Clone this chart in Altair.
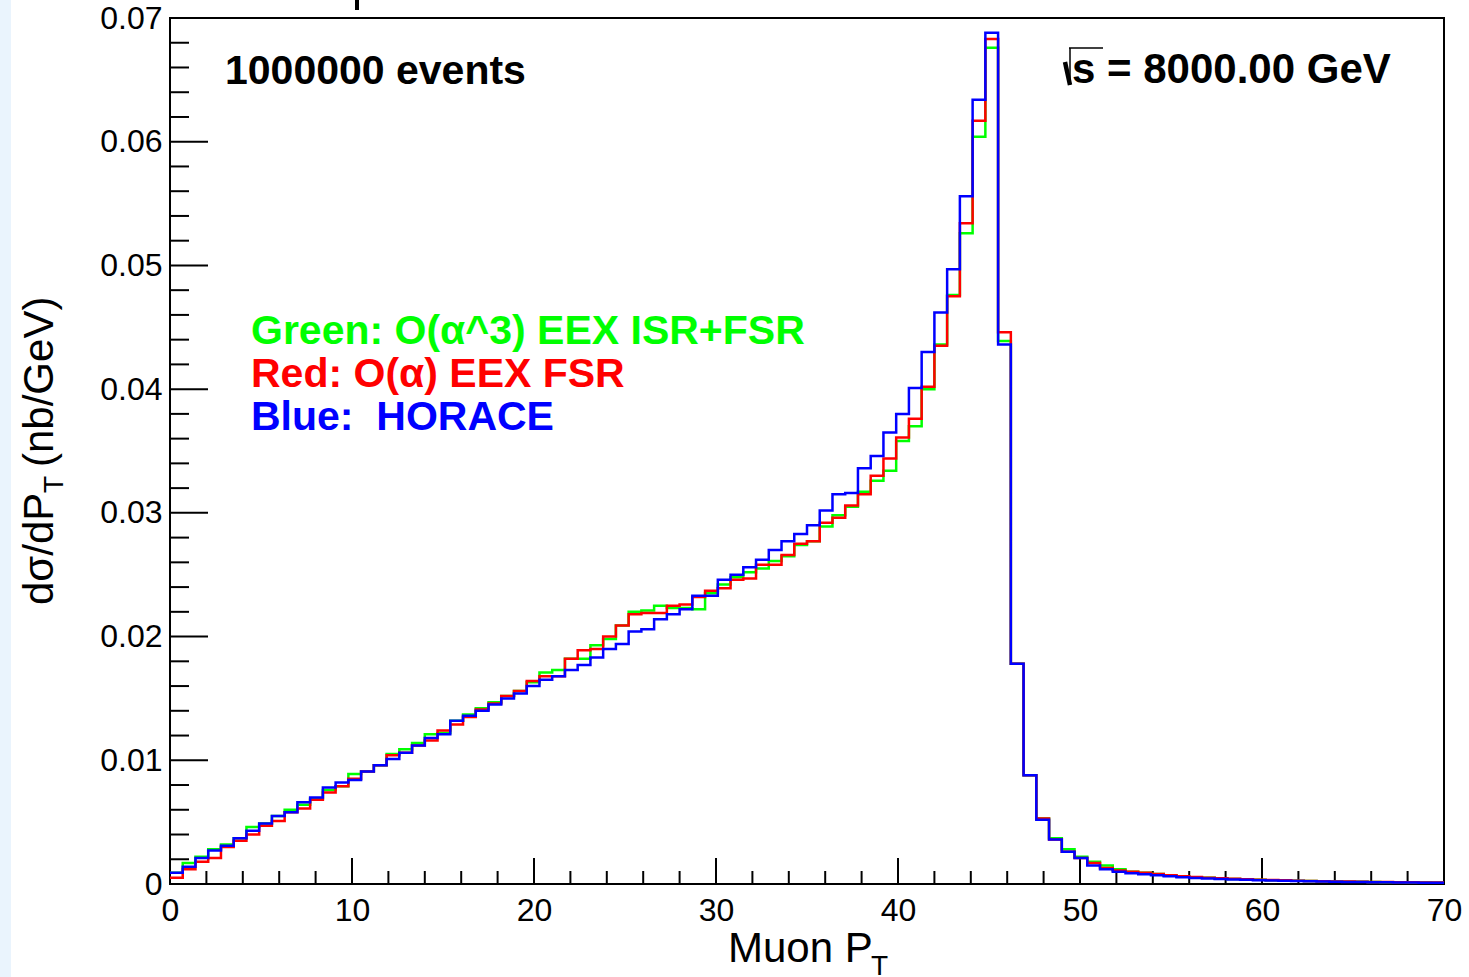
import altair as alt
import pandas as pd

# ---------------- data ----------------
BIN_WIDTH = 0.7  # GeV, 100 bins from 0 to 70

green = [0.0009, 0.0017, 0.0022, 0.0028, 0.0032, 0.0037, 0.0046, 0.0049, 0.0055, 0.0060,
         0.0064, 0.0069, 0.0076, 0.0079, 0.0089, 0.0091, 0.0096, 0.0105, 0.0109, 0.0114,
         0.0121, 0.0122, 0.0132, 0.0137, 0.0142, 0.0147, 0.0152, 0.0156, 0.0163, 0.0171,
         0.0173, 0.0182, 0.0182, 0.0193, 0.0198, 0.0209, 0.0220, 0.0221, 0.0225, 0.0223,
         0.0223, 0.0222, 0.0235, 0.0242, 0.0248, 0.0252, 0.0255, 0.0261, 0.0265, 0.0274,
         0.0277, 0.0289, 0.0298, 0.0305, 0.0317, 0.0326, 0.0334, 0.0358, 0.0370, 0.0400,
         0.0436, 0.0476, 0.0526, 0.0604, 0.0676, 0.0439, 0.0178, 0.0088, 0.0053, 0.0037,
         0.0028, 0.0022, 0.0018, 0.0015, 0.0012, 0.0010, 0.0009, 0.0008, 0.0007, 0.00062,
         0.00055, 0.0005, 0.00045, 0.00041, 0.00037, 0.00034, 0.00031, 0.00029, 0.00027, 0.00025,
         0.00023, 0.00021, 0.00019, 0.00018, 0.00016, 0.00015, 0.00014, 0.00013, 0.00012, 0.00011]

red = [0.0005, 0.0012, 0.0018, 0.0021, 0.0030, 0.0035, 0.0040, 0.0047, 0.0051, 0.0058,
       0.0061, 0.0068, 0.0074, 0.0079, 0.0085, 0.0091, 0.0096, 0.0104, 0.0106, 0.0112,
       0.0116, 0.0124, 0.0129, 0.0135, 0.0141, 0.0146, 0.0152, 0.0156, 0.0164, 0.0168,
       0.0168, 0.0182, 0.0189, 0.0190, 0.0200, 0.0209, 0.0218, 0.0219, 0.0219, 0.0225,
       0.0226, 0.0232, 0.0237, 0.0239, 0.0246, 0.0247, 0.0258, 0.0258, 0.0266, 0.0275,
       0.0277, 0.0292, 0.0296, 0.0306, 0.0315, 0.0330, 0.0344, 0.0361, 0.0376, 0.0402,
       0.0435, 0.0475, 0.0534, 0.0617, 0.0683, 0.0446, 0.0178, 0.0088, 0.0053, 0.0036,
       0.0026, 0.0021, 0.0017, 0.0013, 0.0011, 0.0010, 0.0009, 0.0008, 0.0007, 0.00063,
       0.00056, 0.0005, 0.00046, 0.00042, 0.00038, 0.00035, 0.00032, 0.0003, 0.00027, 0.00025,
       0.00023, 0.00021, 0.0002, 0.00018, 0.00017, 0.00016, 0.00015, 0.00014, 0.00013, 0.00012]

blue = [0.0009, 0.0014, 0.0021, 0.0027, 0.0031, 0.0037, 0.0043, 0.0049, 0.0055, 0.0058,
        0.0066, 0.0070, 0.0078, 0.0082, 0.0084, 0.0091, 0.0096, 0.0101, 0.0106, 0.0112,
        0.0118, 0.0121, 0.0132, 0.0136, 0.0140, 0.0145, 0.0150, 0.0154, 0.0160, 0.0165,
        0.0168, 0.0173, 0.0177, 0.0183, 0.0190, 0.0194, 0.0204, 0.0206, 0.0214, 0.0218,
        0.0222, 0.0233, 0.0233, 0.0246, 0.0250, 0.0256, 0.0262, 0.0270, 0.0277, 0.0283,
        0.0290, 0.0302, 0.0315, 0.0316, 0.0336, 0.0346, 0.0365, 0.0380, 0.0401, 0.0430,
        0.0462, 0.0497, 0.0556, 0.0634, 0.0688, 0.0436, 0.0178, 0.0088, 0.0052, 0.0036,
        0.0026, 0.0021, 0.0015, 0.0012, 0.0010, 0.00087, 0.00078, 0.0007, 0.00062, 0.00055,
        0.00049, 0.00045, 0.00041, 0.00037, 0.00034, 0.00031, 0.00028, 0.00026, 0.00024, 0.00022,
        0.0002, 0.00019, 0.00017, 0.00016, 0.00015, 0.00014, 0.00013, 0.00012, 0.00011, 0.0001]

x_tick_labels = [0, 10, 20, 30, 40, 50, 60, 70]
y_tick_values = [0, 0.01, 0.02, 0.03, 0.04, 0.05, 0.06, 0.07]
x_minor = [v for v in range(2, 70, 2) if v % 10 != 0]
y_minor = [round(k * 0.002, 3) for k in range(1, 35) if k % 5 != 0]

legend_lines = ["Green: O(\u03b1^3) EEX ISR+FSR", "Red: O(\u03b1) EEX FSR", "Blue:\u00a0 HORACE"]
legend_colors = ["#00ff00", "#ff0000", "#0000ff"]

# ---------------- helpers ----------------
W, H = 1274, 866
FONT = "Liberation Sans"


def hist_df(vals):
    xs = [round(i * BIN_WIDTH, 2) for i in range(len(vals))] + [70.0]
    ys = list(vals) + [vals[-1]]
    return pd.DataFrame({"x": xs, "y": ys})


xscale = alt.Scale(domain=[0, 70], nice=False, zero=False)
yscale = alt.Scale(domain=[0, 0.07], nice=False)

xaxis = alt.Axis(values=x_tick_labels, format="d", ticks=False, domain=False, grid=False,
                 labelFont=FONT, labelFontSize=32, labelColor="black", labelPadding=11,
                 labelFlush=False, labelOverlap=False)
yaxis = alt.Axis(values=y_tick_values, ticks=False, domain=False, grid=False,
                 labelExpr="datum.value == 0 ? '0' : format(datum.value, '.2f')",
                 labelFont=FONT, labelFontSize=32, labelColor="black", labelPadding=8,
                 labelFlush=False, labelOverlap=False)


def hist_layer(vals, color):
    return alt.Chart(hist_df(vals)).mark_line(
        interpolate="step-after", color=color, strokeWidth=2.5
    ).encode(
        x=alt.X("x:Q", scale=xscale, axis=xaxis, title=None),
        y=alt.Y("y:Q", scale=yscale, axis=yaxis, title=None),
    )


one = pd.DataFrame({"a": [0]})


def text_at(txt, x, y, size, color="black", bold=False, angle=0, align="left"):
    return alt.Chart(one).mark_text(
        text=txt, font=FONT, fontSize=size, color=color,
        fontWeight="bold" if bold else "normal", angle=angle,
        align=align, baseline="alphabetic",
    ).encode(x=alt.value(x), y=alt.value(y))


def seg(x1, y1, x2, y2, w, color="black"):
    return alt.Chart(one).mark_rule(color=color, strokeWidth=w, strokeCap="butt").encode(
        x=alt.value(x1), y=alt.value(y1), x2=alt.value(x2), y2=alt.value(y2))


# ---------------- ticks drawn inside the frame (ROOT style) ----------------
def xticks(vals, length):
    return alt.Chart(pd.DataFrame({"x": vals})).mark_rule(color="black", strokeWidth=2).encode(
        x=alt.X("x:Q", scale=xscale, axis=xaxis, title=None),
        y=alt.value(H), y2=alt.value(H - length))


def yticks(vals, length):
    return alt.Chart(pd.DataFrame({"y": vals})).mark_rule(color="black", strokeWidth=2).encode(
        y=alt.Y("y:Q", scale=yscale, axis=yaxis, title=None),
        x=alt.value(0), x2=alt.value(length))


layers = [
    # light blue strip at the left edge of the page
    alt.Chart(one).mark_rect(color="#eaf4fd").encode(
        x=alt.value(-170), x2=alt.value(-159), y=alt.value(-18), y2=alt.value(H + 93)),
    xticks(x_tick_labels, 26),
    xticks(x_minor, 13),
    yticks(y_tick_values, 38),
    yticks(y_minor, 19),
    hist_layer(green, "#00ff00"),
    hist_layer(red, "#ff0000"),
    hist_layer(blue, "#0000ff"),
    # annotations
    text_at("1000000 events", 55, 66, 41, bold=True),
    text_at("s = 8000.00 GeV", 902, 65, 42, bold=True),
    seg(895, 44, 900, 67, 4.5),
    seg(900, 67, 900, 30, 1.5),
    seg(899, 30, 933, 30, 1.5),
    # legend text lines
    text_at(legend_lines[0], 81, 326, 41, color=legend_colors[0], bold=True),
    text_at(legend_lines[1], 81, 369, 41, color=legend_colors[1], bold=True),
    text_at(legend_lines[2], 81, 412, 41, color=legend_colors[2], bold=True),
    # axis titles with subscripts
    text_at("Muon P", 558, 944, 42),
    text_at("T", 701, 957, 28),
    text_at("d\u03c3/dP", -117, 587, 42, angle=270),
    text_at("T", -107, 475, 28, angle=270),
    text_at("(nb/GeV)", -117, 449, 42, angle=270),
    # clipped remnant of a title above the frame
    seg(187, -18, 187, -8, 4),
]

chart = alt.layer(*layers).properties(
    width=W, height=H,
    padding={"left": 170, "top": 18, "right": 25, "bottom": 93},
    autosize="none",
    background="white",
).configure_view(stroke="black", strokeWidth=2)

chart.save("out.html", embed_options={"renderer": "svg", "actions": False})
